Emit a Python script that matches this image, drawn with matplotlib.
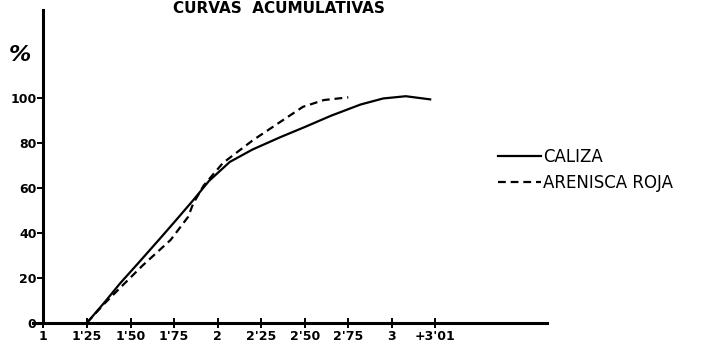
import matplotlib
matplotlib.use('Agg')
import matplotlib.pyplot as plt

# datos
caliza_x = [1.25, 1.35, 1.44, 1.55, 1.67, 1.76, 1.86, 1.95, 2.07, 2.20, 2.36, 2.50, 2.65, 2.82, 2.95, 3.08, 3.22]
caliza_y = [0, 9, 17.5, 27, 37.5, 45.5, 54.5, 63, 71.5, 77, 82.5, 87, 92, 97, 99.7, 100.7, 99.3]

arenisca_x = [1.25, 1.35, 1.44, 1.57, 1.73, 1.83, 1.86, 1.92, 2.03, 2.20, 2.36, 2.49, 2.61, 2.75]
arenisca_y = [0, 8.5, 15.5, 25.5, 36.8, 47, 53, 61, 71, 81, 89.3, 96, 99, 100.2]

x_ticks = [1, 1.25, 1.5, 1.75, 2, 2.25, 2.5, 2.75, 3, 3.25]
x_labels = ["1", "1'25", "1'50", "1'75", "2", "2'25", "2'50", "2'75", "3", "+3'01"]
y_ticks = [0, 20, 40, 60, 80, 100]
y_labels = ["0", "20", "40", "60", "80", "100"]

fig = plt.figure(figsize=(7.03, 3.47), dpi=100)
ax = fig.add_axes([0.0469, 0.018, 0.731, 0.953])

ax.plot(caliza_x, caliza_y, color='black', lw=1.6, label='CALIZA')
ax.plot(arenisca_x, arenisca_y, color='black', lw=1.6, dashes=(3.5, 2.2), label='ARENISCA ROJA')

ax.set_xlim(0.94, 3.89)
ax.set_ylim(-8, 139)

# ejes tipo cruz
for s in ['top', 'right']:
    ax.spines[s].set_visible(False)
ax.spines['left'].set_position(('data', 1))
ax.spines['bottom'].set_position(('data', 0))
ax.spines['left'].set_bounds(0, 139)
ax.spines['left'].set_linewidth(2.2)
ax.spines['bottom'].set_linewidth(2.2)

ax.set_xticks(x_ticks)
ax.set_xticklabels(x_labels, fontsize=9, fontweight='bold')
ax.set_yticks(y_ticks)
ax.set_yticklabels(y_labels, fontsize=9, fontweight='bold')
ax.tick_params(axis='x', direction='inout', length=7, width=1.4, pad=2)
ax.tick_params(axis='y', direction='out', length=4, width=1.4, pad=1)

fig.text(20 / 703, 1 - 55 / 347, '%', fontsize=16, fontweight='bold',
         ha='center', va='center', style='italic')
fig.text(173 / 703, 1 - 13 / 347, 'CURVAS  ACUMULATIVAS', fontsize=11,
         fontweight='bold', ha='left', va='baseline')

ax.legend(loc='center left', bbox_to_anchor=(498 / 703, 1 - 170 / 347),
          bbox_transform=fig.transFigure, frameon=False, fontsize=12,
          handlelength=2.6, handletextpad=0.1, borderpad=0, borderaxespad=0,
          labelspacing=0.45)

fig.savefig('out.png', dpi=100)
